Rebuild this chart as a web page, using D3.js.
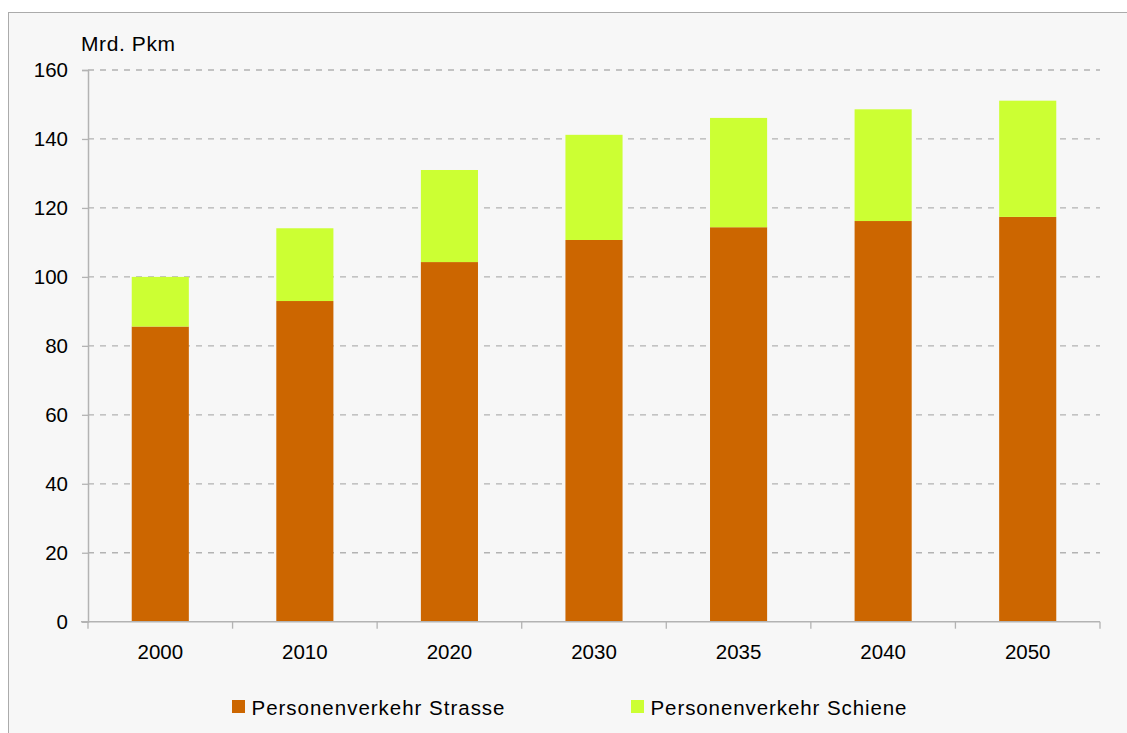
<!DOCTYPE html>
<html><head><meta charset="utf-8">
<script src="https://cdn.jsdelivr.net/npm/d3@7"></script>
<style>
html,body{margin:0;padding:0;background:#fff;}
svg{display:block;font-family:"Liberation Sans",Arial,sans-serif;}
</style></head>
<body><svg id="chart" width="1127" height="733"></svg>
<script>
const years = ["2000","2010","2020","2030","2035","2040","2050"];
const strasse = [85.6, 93.0, 104.3, 110.7, 114.4, 116.2, 117.4];
const schiene = [14.4, 21.1, 26.7, 30.5, 31.7, 32.4, 33.7];
const seriesNames = ["Personenverkehr Strasse", "Personenverkehr Schiene"];
const seriesColors = ["#cc6600", "#ccff33"];
const yTicks = [0,20,40,60,80,100,120,140,160];
const yUnit = "Mrd. Pkm";

(function(){
const svg = d3.select("#chart");
const FONT = "Liberation Sans, Arial, sans-serif";
svg.append("rect").attr("x",8.5).attr("y",12.5).attr("width",1130).attr("height",740)
  .attr("fill","#f7f7f7").attr("stroke","#ababab").attr("stroke-width",1);

const pL=88, pR=1100, pT=70, pB=621.7;
const x = d3.scaleBand().domain(years).range([pL,pR]).paddingInner(0).paddingOuter(0);
const y = d3.scaleLinear().domain([0,160]).range([pB,pT]);

// grid
svg.append("g").selectAll("line").data(yTicks.filter(d=>d>0)).join("line")
  .attr("x1",pL).attr("x2",pR).attr("y1",d=>y(d)).attr("y2",d=>y(d))
  .attr("stroke","#b3b3b3").attr("stroke-width",1.3).attr("stroke-dasharray","6,6");

// bars
const data = years.map((yr,i)=>({year:yr, strasse:strasse[i], schiene:schiene[i]}));
const stack = d3.stack().keys(["strasse","schiene"])(data);
const bw = x.bandwidth()*0.395;
svg.append("g").selectAll("g").data(stack).join("g")
  .attr("fill",(d,i)=>seriesColors[i])
  .selectAll("rect").data(d=>d).join("rect")
  .attr("x",d=>x(d.data.year)+x.bandwidth()/2-bw/2)
  .attr("width",bw)
  .attr("y",d=>y(d[1]))
  .attr("height",d=>y(d[0])-y(d[1]));

// y axis
const yAxis = svg.append("g").attr("transform",`translate(${pL},0)`)
  .call(d3.axisLeft(y).tickValues(yTicks).tickSize(6).tickPadding(14).tickFormat(d3.format("d")));
yAxis.select(".domain").attr("stroke","#b3b3b3").attr("stroke-width",1.5);
yAxis.selectAll(".tick line").attr("stroke","#b3b3b3").attr("stroke-width",1.3);
yAxis.selectAll("text").attr("font-size",20.5).attr("fill","#000").attr("font-family",FONT);

// x axis
const xAxis = svg.append("g").attr("transform",`translate(0,${pB})`)
  .call(d3.axisBottom(x).tickSize(0).tickPadding(22.5));
xAxis.select(".domain").attr("stroke","#b3b3b3").attr("stroke-width",1.5).attr("d",`M${pL-7},0H${pR}`);
xAxis.selectAll("text").attr("font-size",20.5).attr("fill","#000").attr("font-family",FONT);
const bounds = years.map(d=>x(d)).concat([pR]);
svg.append("g").selectAll("line").data(bounds).join("line")
  .attr("x1",d=>d).attr("x2",d=>d).attr("y1",pB).attr("y2",pB+7)
  .attr("stroke","#b3b3b3").attr("stroke-width",1.3);

// unit label
svg.append("text").attr("x",81).attr("y",51).attr("font-size",21).attr("font-family",FONT)
  .attr("textLength",94).text(yUnit);

// legend
const legX = [232, 631];
const legW = [253, 256];
const leg = svg.append("g").selectAll("g").data(seriesNames).join("g")
  .attr("transform",(d,i)=>`translate(${legX[i]},700)`);
leg.append("rect").attr("width",13).attr("height",13).attr("fill",(d,i)=>seriesColors[i]);
leg.append("text").attr("x",19.5).attr("y",15).attr("font-size",20.5).attr("font-family",FONT)
  .attr("textLength",(d,i)=>legW[i]).attr("lengthAdjust","spacing").text(d=>d);
})();
</script></body></html>
